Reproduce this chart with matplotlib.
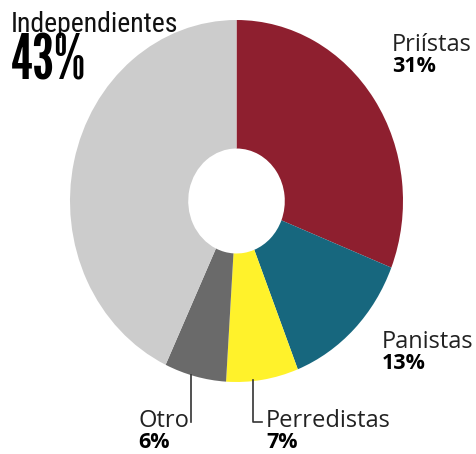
import matplotlib
matplotlib.use('Agg')
import matplotlib.pyplot as plt

# data (clockwise from the top)
labels = ['Priístas', 'Panistas', 'Perredistas', 'Otro', 'Independientes']
values = [31, 13, 7, 6, 43]
colors = ['#8E1F2F', '#17677E', '#FFF22B', '#6A6A6A', '#CCCCCC']

W, H = 476, 454
fig = plt.figure(figsize=(W / 100, H / 100), dpi=100)


def fx(px):
    return px / W


def fy(py):
    return 1 - py / H


# pie axes placed over the (slightly tall) ellipse
left, right, top, bottom = 70, 403, 20, 382
ax = fig.add_axes([fx(left), fy(bottom), (right - left) / W, (bottom - top) / H])
ax.pie(values, colors=colors, startangle=90, counterclock=False,
       wedgeprops=dict(width=0.71, linewidth=0))
ax.set_aspect('auto')
ax.set_xlim(-1, 1)
ax.set_ylim(-1, 1)
ax.axis('off')

regular = ['Open Sans', 'DejaVu Sans']
semi = ['Roboto Condensed', 'Barlow Condensed', 'Liberation Sans Narrow', 'DejaVu Sans']
narrow = ['League Gothic', 'Antonio', 'Oswald', 'Liberation Sans Narrow', 'DejaVu Sans']

# big label
fig.text(fx(11), fy(32), labels[4], fontsize=20, family=semi,
         va='baseline', ha='left', color='#111111')
fig.text(fx(11), fy(80), str(values[4]) + '%', fontsize=45, family=narrow,
         weight='normal', va='baseline', ha='left', color='black')

# smaller labels: (name, value, x, baseline)
small = [(0, 392, 51), (1, 382, 348), (3, 138, 427), (2, 266, 427)]
for i, x, y in small:
    fig.text(fx(x), fy(y), labels[i], fontsize=17, family=regular,
             va='baseline', ha='left', color='#222222')
    fig.text(fx(x), fy(y + 21), str(values[i]) + '%', fontsize=15.5, family=regular,
             weight='bold', va='baseline', ha='left', color='black')

# leader lines
lc = '#333333'
fig.add_artist(plt.Line2D([fx(191), fx(191)], [fy(375), fy(422)], color=lc, lw=1.2))
fig.add_artist(plt.Line2D([fx(253), fx(253), fx(262)], [fy(380), fy(422), fy(422)],
                          color=lc, lw=1.2))

fig.savefig('out.png', dpi=100, facecolor='white')
